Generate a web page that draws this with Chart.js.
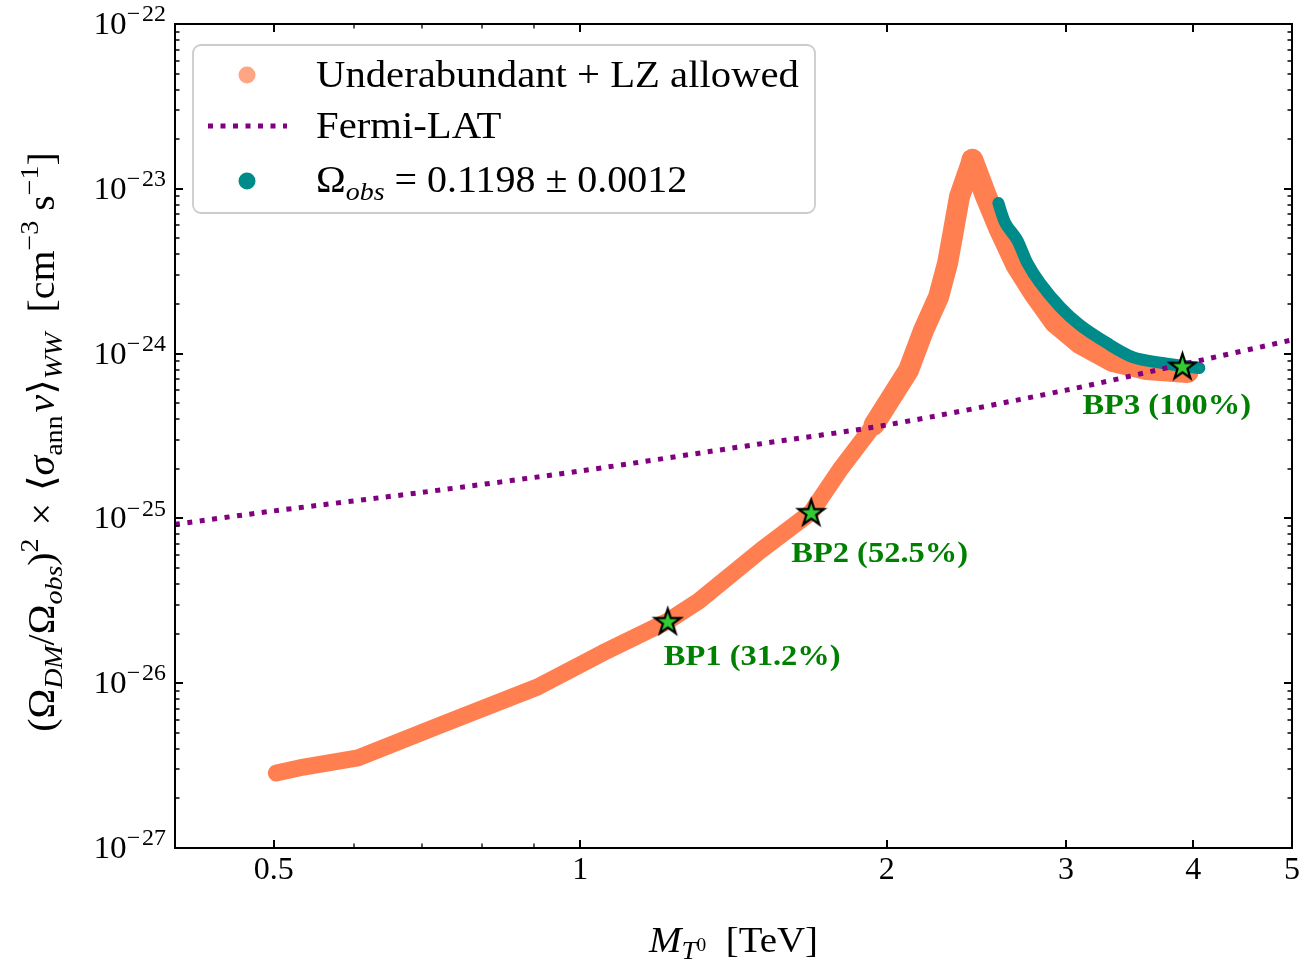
<!DOCTYPE html>
<html>
<head>
<meta charset="utf-8">
<script src="https://cdn.jsdelivr.net/npm/chart.js@4.4.1/dist/chart.umd.min.js"></script>
<style>
  html, body { margin: 0; padding: 0; background: #fff; }
  #wrap { width: 1307px; height: 961px; }
</style>
</head>
<body>
<div id="wrap"><canvas id="relicChart"></canvas></div>
<script>
/* Values (mass in TeV, rate in cm^3/s) */
const bandLowMass = [0.503, 0.535, 0.605, 0.733, 0.908, 1.051, 1.219, 1.307, 1.506, 1.686, 1.804, 1.943, 2.101, 2.174];
const bandLowSigma = [2.85e-27, 3.10e-27, 3.52e-27, 5.65e-27, 9.48e-27, 1.52e-26, 2.38e-26, 3.15e-26, 6.43e-26, 1.09e-25, 2.02e-25, 3.69e-25, 7.94e-25, 1.39e-24];

const bandRiseMass = [1.943, 2.101, 2.174, 2.248, 2.295, 2.326, 2.357, 2.427];
const bandRiseSigma = [3.69e-25, 7.94e-25, 1.39e-24, 2.20e-24, 3.55e-24, 5.62e-24, 8.91e-24, 1.50e-23];

const bandFallMass = [2.427, 2.505, 2.579, 2.681, 2.791, 2.926, 3.095, 3.334, 3.600, 3.948];
const bandFallSigma = [1.50e-23, 8.91e-24, 5.78e-24, 3.45e-24, 2.33e-24, 1.55e-24, 1.16e-24, 9.02e-25, 8.07e-25, 7.73e-25];

const obsMass = [2.574, 2.615, 2.686, 2.748, 2.829, 2.959, 3.095, 3.289, 3.487, 3.731, 4.055];
const obsSigma = [8.20e-24, 6.19e-24, 4.89e-24, 3.55e-24, 2.68e-24, 1.92e-24, 1.49e-24, 1.16e-24, 9.53e-25, 8.77e-25, 8.18e-25];

const fermiMass = [0.4, 0.5, 0.7, 1.0, 1.5, 2.0, 3.0, 4.0, 5.0];
const fermiSigma = [9.2e-26, 1.11e-25, 1.44e-25, 1.94e-25, 2.83e-25, 3.69e-25, 6.0e-25, 8.9e-25, 1.21e-24];

const bpMass = [1.219, 1.686, 3.903];
const bpSigma = [2.38e-26, 1.09e-25, 8.41e-25];
const bpLabels = ['BP1 (31.2%)', 'BP2 (52.5%)', 'BP3 (100%)'];

/* Tick values */
const xMajor = [0.5, 1, 2, 3, 4, 5];
const xMajorLabels = ['0.5', '1', '2', '3', '4', '5'];
const xMinor = [0.6, 0.7, 0.8, 0.9];
const yExponents = [-27, -26, -25, -24, -23, -22];

const ORANGE = 'rgb(255, 127, 80)';
const TEAL = 'rgb(0, 139, 139)';
const PURPLE = '#800080';
const SERIF = '"Liberation Serif", "DejaVu Serif", serif';

const toPoints = (xs, ys) => xs.map((x, i) => ({ x: x, y: ys[i] }));

// green star marker with black edge
function makeStar(R) {
    const c = document.createElement('canvas');
    const s = Math.ceil(2 * R + 6);
    c.width = s;
    c.height = s;
    const g = c.getContext('2d');
    g.translate(s / 2, s / 2 + R * 0.08);
    g.beginPath();
    for (let i = 0; i < 10; i++) {
        const r = i % 2 ? R * 0.382 : R;
        const a = -Math.PI / 2 + i * Math.PI / 5;
        g.lineTo(r * Math.cos(a), r * Math.sin(a));
    }
    g.closePath();
    g.fillStyle = '#32cd32';
    g.fill();
    g.lineWidth = 2.2;
    g.strokeStyle = '#000';
    g.stroke();
    return c;
}

/* Small text helper for sub/superscripts */
function partFont(p, size) {
    return (p.style ? p.style + ' ' : '') + (size * (p.scale || 1)).toFixed(1) + 'px ' + SERIF;
}

function richWidth(ctx, parts, size, stretch) {
    let w = 0;
    parts.forEach(p => {
        ctx.font = partFont(p, size);
        w += ctx.measureText(p.t).width * stretch + (p.gap || 0) * size;
    });
    return w;
}

function drawRich(ctx, parts, x, y, size, align, stretch, color) {
    const total = richWidth(ctx, parts, size, stretch);
    let cx = align === 'center' ? x - total / 2 : (align === 'right' ? x - total : x);
    ctx.save();
    ctx.fillStyle = color || '#000';
    ctx.textAlign = 'left';
    ctx.textBaseline = 'alphabetic';
    parts.forEach(p => {
        ctx.font = partFont(p, size);
        const w = ctx.measureText(p.t).width * stretch;
        ctx.save();
        ctx.translate(cx, y + (p.dy || 0) * size);
        ctx.scale(stretch, 1);
        ctx.fillText(p.t, 0, 0);
        ctx.restore();
        cx += w + (p.gap || 0) * size;
    });
    ctx.restore();
}

const SUB = 0.22, SUP = -0.42;

const yTitle = [
    { t: '(Ω' }, { t: 'DM', style: 'italic', scale: 0.7, dy: SUB }, { t: '/Ω' },
    { t: 'obs', style: 'italic', scale: 0.7, dy: SUB }, { t: ')' }, { t: '2', scale: 0.7, dy: SUP, gap: 0.08 },
    { t: ' × ', gap: 0.05 }, { t: '⟨' }, { t: 'σ', style: 'italic' }, { t: 'ann', scale: 0.7, dy: SUB, gap: 0.08 },
    { t: 'v', style: 'italic' }, { t: '⟩' }, { t: 'WW', style: 'italic', scale: 0.7, dy: SUB },
    { t: '  [cm' }, { t: '−3', scale: 0.7, dy: SUP }, { t: ' s' }, { t: '−1', scale: 0.7, dy: SUP }, { t: ']' }
];
const xTitle = [
    { t: 'M', style: 'italic' }, { t: 'T', style: 'italic', scale: 0.7, dy: 0.2 },
    { t: '0', scale: 0.5, dy: -0.02 }, { t: '  [TeV]' }
];

// frame, inward ticks, labels, titles, legend and BP tags
const decorPlugin = {
    id: 'decor',
    afterDraw(chart) {
        const ctx = chart.ctx;
        const a = chart.chartArea;
        const xs = chart.scales.x;
        const ys = chart.scales.y;

        ctx.save();
        ctx.strokeStyle = '#000';
        ctx.lineCap = 'butt';

        // x ticks on bottom and top
        const xTick = (v, len, lw) => {
            const px = Math.round(xs.getPixelForValue(v));
            ctx.lineWidth = lw;
            ctx.beginPath();
            ctx.moveTo(px, a.bottom); ctx.lineTo(px, a.bottom - len);
            ctx.moveTo(px, a.top); ctx.lineTo(px, a.top + len);
            ctx.stroke();
        };
        xMajor.forEach(v => xTick(v, 8, 2));
        xMinor.forEach(v => xTick(v, 4.5, 1.3));

        // y ticks on left and right
        const yTick = (v, len, lw) => {
            const py = Math.round(ys.getPixelForValue(v));
            ctx.lineWidth = lw;
            ctx.beginPath();
            ctx.moveTo(a.left, py); ctx.lineTo(a.left + len, py);
            ctx.moveTo(a.right, py); ctx.lineTo(a.right - len, py);
            ctx.stroke();
        };
        yExponents.forEach((e, i) => {
            yTick(Math.pow(10, e), 8, 2);
            if (i < yExponents.length - 1) {
                for (let k = 2; k <= 9; k++) yTick(k * Math.pow(10, e), 4.5, 1.3);
            }
        });

        // frame
        ctx.lineWidth = 2;
        ctx.strokeRect(a.left, a.top, a.right - a.left, a.bottom - a.top);
        ctx.restore();

        // tick labels
        xMajor.forEach((v, i) => {
            drawRich(ctx, [{ t: xMajorLabels[i] }], xs.getPixelForValue(v), a.bottom + 31, 32, 'center', 1.0);
        });
        yExponents.forEach(e => {
            const py = ys.getPixelForValue(Math.pow(10, e));
            drawRich(ctx, [{ t: '10' }, { t: '−', scale: 0.72, dy: -0.4, gap: 0.06 }, { t: String(Math.abs(e)), scale: 0.72, dy: -0.4 }],
                a.left - 9, py + 10, 32, 'right', 1.04);
        });

        // axis titles
        drawRich(ctx, xTitle, (a.left + a.right) / 2, 952, 36, 'center', 1.08);
        ctx.save();
        ctx.translate(54, (a.top + a.bottom) / 2 + 6);
        ctx.rotate(-Math.PI / 2);
        drawRich(ctx, yTitle, 0, 0, 37, 'center', 1.08);
        ctx.restore();

        // benchmark labels under the stars
        const starMeta = chart.getDatasetMeta(0);
        const offsets = [[-4, 44], [-20, 50], [-100, 48]];
        starMeta.data.forEach((pt, i) => {
            drawRich(ctx, [{ t: bpLabels[i], style: 'bold' }], pt.x + offsets[i][0], pt.y + offsets[i][1], 29, 'left', 1.12, '#008000');
        });

        // legend box
        const bx = 193, by = 45, bw = 622, bh = 168, r = 8;
        ctx.save();
        ctx.beginPath();
        ctx.moveTo(bx + r, by);
        ctx.arcTo(bx + bw, by, bx + bw, by + bh, r);
        ctx.arcTo(bx + bw, by + bh, bx, by + bh, r);
        ctx.arcTo(bx, by + bh, bx, by, r);
        ctx.arcTo(bx, by, bx + bw, by, r);
        ctx.closePath();
        ctx.fillStyle = 'rgba(255,255,255,0.8)';
        ctx.fill();
        ctx.lineWidth = 1.8;
        ctx.strokeStyle = '#cccccc';
        ctx.stroke();

        ctx.fillStyle = 'rgba(255, 127, 80, 0.7)';
        ctx.beginPath(); ctx.arc(247, 75, 8.5, 0, Math.PI * 2); ctx.fill();
        ctx.fillStyle = TEAL;
        ctx.beginPath(); ctx.arc(247, 181, 8.5, 0, Math.PI * 2); ctx.fill();
        ctx.strokeStyle = PURPLE;
        ctx.lineWidth = 5;
        ctx.setLineDash([5, 7.5]);
        ctx.beginPath(); ctx.moveTo(208, 126); ctx.lineTo(287, 126); ctx.stroke();
        ctx.restore();

        drawRich(ctx, [{ t: 'Underabundant + LZ allowed' }], 316, 87, 37, 'left', 1.1);
        drawRich(ctx, [{ t: 'Fermi-LAT' }], 316, 138, 37, 'left', 1.1);
        drawRich(ctx, [{ t: 'Ω' }, { t: 'obs', style: 'italic', scale: 0.7, dy: SUB }, { t: ' = 0.1198 ± 0.0012' }], 316, 192, 37, 'left', 1.08);
    }
};

const starImg = makeStar(13.5);

const bandLine = (label, xs, ys, width, order) => ({
    label: label,
    data: toPoints(xs, ys),
    showLine: true,
    borderColor: ORANGE,
    borderWidth: width,
    borderCapStyle: 'round',
    borderJoinStyle: 'round',
    pointRadius: 0,
    order: order
});

const ctx = document.getElementById('relicChart');
new Chart(ctx, {
    type: 'scatter',
    data: {
        datasets: [
            {
                label: 'Benchmarks',
                data: toPoints(bpMass, bpSigma),
                pointStyle: starImg,
                pointRadius: 14,
                pointHoverRadius: 14,
                order: 0
            },
            {
                label: 'Fermi-LAT',
                data: toPoints(fermiMass, fermiSigma),
                showLine: true,
                borderColor: PURPLE,
                borderWidth: 5,
                borderDash: [5, 7.5],
                borderCapStyle: 'butt',
                tension: 0.3,
                pointRadius: 0,
                order: 1
            },
            {
                label: 'Ωobs = 0.1198 ± 0.0012',
                data: toPoints(obsMass, obsSigma),
                showLine: true,
                borderColor: TEAL,
                borderWidth: 12,
                borderCapStyle: 'round',
                borderJoinStyle: 'round',
                tension: 0.3,
                pointRadius: 0,
                order: 2
            },
            bandLine('Underabundant + LZ allowed', bandFallMass, bandFallSigma, 22, 3),
            bandLine('Underabundant + LZ allowed (rise)', bandRiseMass, bandRiseSigma, 21, 4),
            bandLine('Underabundant + LZ allowed (low)', bandLowMass, bandLowSigma, 17, 5)
        ]
    },
    options: {
        responsive: true,
        maintainAspectRatio: false,
        animation: false,
        events: [],
        layout: { padding: { left: 175, right: 12, top: 24, bottom: 113 } },
        plugins: {
            legend: { display: false },
            tooltip: { enabled: false }
        },
        scales: {
            x: { type: 'logarithmic', min: 0.4, max: 5, display: false },
            y: { type: 'logarithmic', min: 1e-27, max: 1e-22, display: false }
        }
    },
    plugins: [decorPlugin]
});
</script>
</body>
</html>
